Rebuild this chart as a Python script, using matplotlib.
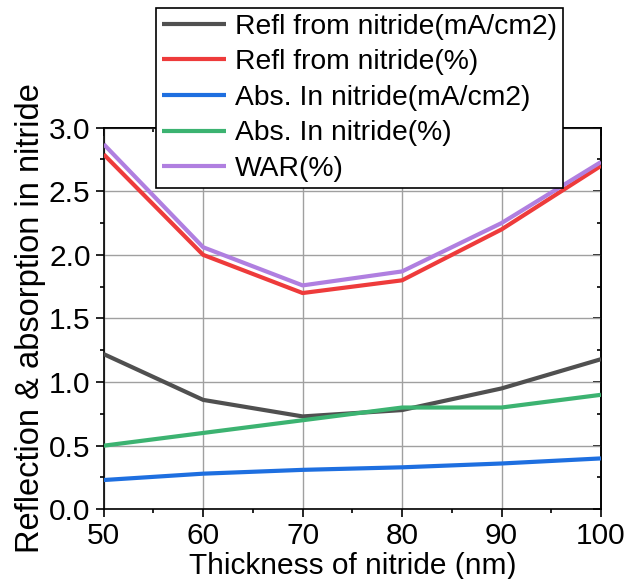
import matplotlib
matplotlib.use("Agg")
import matplotlib.pyplot as plt
from matplotlib.ticker import MultipleLocator, NullFormatter

plt.rcParams['font.family'] = ['Liberation Sans', 'DejaVu Sans']

thickness = [50, 60, 70, 80, 90, 100]
refl_ma = [1.22, 0.86, 0.73, 0.78, 0.95, 1.18]
refl_pct = [2.79, 2.00, 1.70, 1.80, 2.20, 2.70]
abs_ma = [0.23, 0.28, 0.31, 0.33, 0.36, 0.40]
abs_pct = [0.50, 0.60, 0.70, 0.80, 0.80, 0.90]
war_pct = [2.87, 2.06, 1.76, 1.87, 2.25, 2.73]

series = [
    ("Refl from nitride(mA/cm2)", refl_ma, "#505050"),
    ("Refl from nitride(%)", refl_pct, "#EE3B3B"),
    ("Abs. In nitride(mA/cm2)", abs_ma, "#1E6FE0"),
    ("Abs. In nitride(%)", abs_pct, "#3CB371"),
    ("WAR(%)", war_pct, "#B07FE0"),
]

fig = plt.figure(figsize=(6.27, 5.79), dpi=100)
ax = fig.add_axes([0.1654, 0.1204, 0.7931, 0.6591])

for label, vals, color in series:
    ax.plot(thickness, vals, color=color, lw=3, label=label, solid_capstyle='butt', zorder=3)

ax.set_xlim(50, 100)
ax.set_ylim(0, 3.0)
ax.xaxis.set_major_locator(MultipleLocator(10))
ax.xaxis.set_minor_locator(MultipleLocator(5))
ax.yaxis.set_major_locator(MultipleLocator(0.5))
ax.yaxis.set_minor_locator(MultipleLocator(0.25))
ax.yaxis.set_major_formatter(matplotlib.ticker.FormatStrFormatter('%.1f'))
ax.grid(True, which='major', color='#A0A0A0', lw=1, zorder=1)
ax.tick_params(which='both', direction='out', labelsize=21.5, width=1.2, pad=3.5)
ax.tick_params(which='major', length=6)
ax.tick_params(which='minor', length=3)
for s in ax.spines.values():
    s.set_linewidth(1.2)

# inward ticks on top and right
top = ax.secondary_xaxis('top')
top.xaxis.set_major_locator(MultipleLocator(10))
top.xaxis.set_minor_locator(MultipleLocator(5))
top.xaxis.set_major_formatter(NullFormatter())
top.tick_params(which='both', direction='in', width=1.2)
top.tick_params(which='major', length=6)
top.tick_params(which='minor', length=3)
top.spines['top'].set_linewidth(1.2)

right = ax.secondary_yaxis('right')
right.yaxis.set_major_locator(MultipleLocator(0.5))
right.yaxis.set_minor_locator(MultipleLocator(0.25))
right.yaxis.set_major_formatter(NullFormatter())
right.tick_params(which='both', direction='in', width=1.2)
right.tick_params(which='major', length=6)
right.tick_params(which='minor', length=3)
right.spines['right'].set_linewidth(1.2)

ax.set_xlabel("Thickness of nitride (nm)", fontsize=21.5, labelpad=1)
ax.set_ylabel("Reflection & absorption in nitride", fontsize=23.5, labelpad=2)

leg = fig.legend(loc='upper left', bbox_to_anchor=(156/627, 1-8/579), fontsize=20.3,
                 frameon=True, fancybox=False, edgecolor='black', framealpha=1,
                 handlelength=2.3, handletextpad=0.3, labelspacing=0.34, borderpad=0.2,
                 borderaxespad=0)
leg.get_frame().set_linewidth(1.2)
leg.set_zorder(10)

fig.savefig("out.png", dpi=100)
